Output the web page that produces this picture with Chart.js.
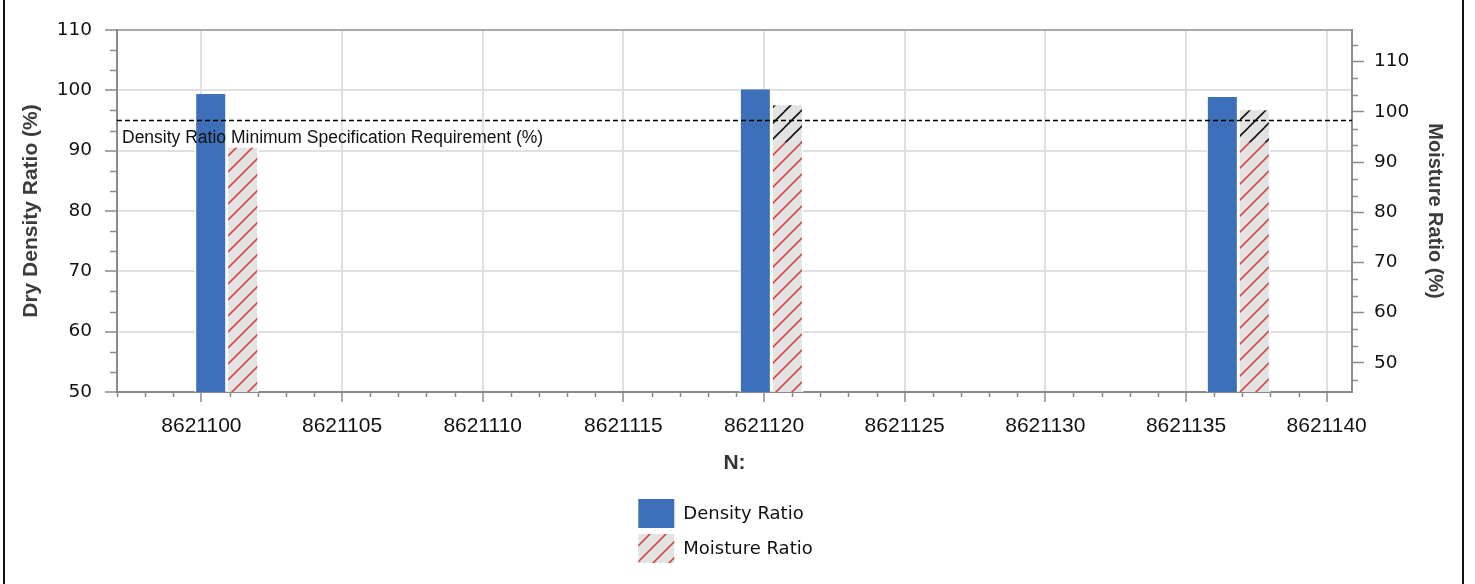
<!DOCTYPE html>
<html><head><meta charset="utf-8">
<script src="https://cdn.jsdelivr.net/npm/chart.js@4.4.1/dist/chart.umd.min.js"></script>
<style>
html,body{margin:0;padding:0;background:#fff;}
#wrap{position:relative;width:1475px;height:584px;overflow:hidden;}
#frame{position:absolute;left:3px;top:0;width:1457px;height:584px;border-left:2px solid #111;border-right:2px solid #111;pointer-events:none;}
canvas{position:absolute;left:0;top:0;}
</style></head><body>
<div id="wrap"><canvas id="c" width="1475" height="584"></canvas><div id="frame"></div></div>
<script>
// ---- data ----
const northings = [8621100.9, 8621120.26, 8621136.86];
const densityRatio = [99.4, 100.2, 98.9];
const moistureRatio = [92.9, 101.3, 100.3];
const densitySpecMin = 95;
const specLabel = 'Density Ratio Minimum Specification Requirement (%)';
const leftTicks = [50, 60, 70, 80, 90, 100, 110];
const rightTicks = [50, 60, 70, 80, 90, 100, 110];
const xTicks = [8621100, 8621105, 8621110, 8621115, 8621120, 8621125, 8621130, 8621135, 8621140];
const seriesLabels = ['Density Ratio', 'Moisture Ratio'];

const canvas = document.getElementById('c');
const ctx = canvas.getContext('2d');

function makeHatch(bg, fg) {
  const W = 16, H = 16;
  const c = document.createElement('canvas'); c.width = W; c.height = H;
  const g = c.getContext('2d');
  g.fillStyle = bg; g.fillRect(0, 0, W, H);
  g.strokeStyle = fg; g.lineWidth = 1.6;
  for (const dx of [-W, 0, W]) for (const dy of [-H, 0, H]) {
    g.beginPath(); g.moveTo(dx, H + dy); g.lineTo(dx + W, dy); g.stroke();
  }
  return ctx.createPattern(c, 'repeat');
}
const redHatch = makeHatch('#e3e3e3', '#d64541');
const blackHatch = makeHatch('#e3e3e3', '#111111');
const densityColor = '#3d70b8';
const axisColor = '#8a8a8a';
const gridColor = '#e0e0e0';

const specPlugin = {
  id: 'spec',
  afterDatasetsDraw(chart) {
    const c = chart.ctx, ca = chart.chartArea;
    const lineY = chart.scales.y.getPixelForValue(densitySpecMin);
    const bandBottom = lineY + 22;
    const meta = chart.getDatasetMeta(1);
    meta.data.forEach(bar => {
      const p = bar.getProps(['x', 'y', 'base', 'width'], true);
      const l = p.x - p.width / 2 + 1.5, r = p.x + p.width / 2 - 1.5;
      const top = p.y, bot = Math.min(p.base, bandBottom);
      if (bot <= top) return;
      c.save();
      c.beginPath(); c.rect(l, top, r - l, bot - top); c.clip();
      c.fillStyle = blackHatch; c.fillRect(l, top, r - l, bot - top);
      c.restore();
    });
    c.save();
    c.strokeStyle = '#000'; c.lineWidth = 1.5; c.setLineDash([5, 3]);
    const ly = Math.round(lineY) - 0.5;
    c.beginPath(); c.moveTo(ca.left, ly); c.lineTo(ca.right, ly); c.stroke();
    c.setLineDash([]);
    c.fillStyle = '#111';
    c.font = '17.5px "Liberation Sans", Arial, sans-serif';
    c.textBaseline = 'alphabetic'; c.textAlign = 'left';
    c.fillText(specLabel, ca.left + 5, lineY + 22);
    c.restore();
  }
};

const minorTickPlugin = {
  id: 'minorTicks',
  afterDraw(chart) {
    const c = chart.ctx;
    c.save(); c.strokeStyle = axisColor; c.lineWidth = 1.5;
    const y = chart.scales.y, y1 = chart.scales.y1, x = chart.scales.x;
    const ls = (leftTicks[1] - leftTicks[0]) / 3;
    for (let k = 0; ; k++) {
      const v = leftTicks[0] + k * ls;
      if (v > y.max + 1e-6) break;
      if (k % 3 === 0) continue;
      const py = Math.round(y.getPixelForValue(v)) + 0.5;
      c.beginPath(); c.moveTo(y.right - 7, py); c.lineTo(y.right, py); c.stroke();
    }
    const rs = (rightTicks[1] - rightTicks[0]) / 3;
    for (let k = -6; k < 40; k++) {
      const v = rightTicks[0] + k * rs;
      if (v < y1.min - 1e-6 || v > y1.max + 1e-6) continue;
      if (((k % 3) + 3) % 3 === 0) continue;
      const py = Math.round(y1.getPixelForValue(v)) + 0.5;
      c.beginPath(); c.moveTo(y1.left, py); c.lineTo(y1.left + 6, py); c.stroke();
    }
    for (let v = Math.ceil(x.min); v <= x.max; v++) {
      if (v % 5 === 0) continue;
      const px = Math.round(x.getPixelForValue(v)) + 0.5;
      c.beginPath(); c.moveTo(px, x.top); c.lineTo(px, x.top + 5); c.stroke();
    }
    c.restore();
  }
};

const legendPlugin = {
  id: 'customLegend',
  afterDraw(chart) {
    const c = chart.ctx, ca = chart.chartArea, xs = chart.scales.x;
    c.save();
    c.font = '18px "DejaVu Sans", sans-serif';
    const maxW = Math.max(...chart.data.datasets.map(d => c.measureText(d.label).width));
    const boxW = 36, boxH = 29, gap = 9, rowH = 35;
    const blockW = boxW + gap + maxW;
    const left = (ca.left + ca.right) / 2 - blockW / 2 - 9;
    let top = xs.bottom + 15;
    chart.data.datasets.forEach(d => {
      c.fillStyle = d.legendFill;
      c.fillRect(left, top, boxW, boxH);
      c.fillStyle = '#111'; c.textBaseline = 'middle'; c.textAlign = 'left';
      c.fillText(d.label, left + boxW + gap, top + boxH / 2 + 1);
      top += rowH;
    });
    c.restore();
  }
};

new Chart(canvas, {
  type: 'bar',
  data: {
    datasets: [
      {
        label: seriesLabels[0],
        data: northings.map((x, i) => ({ x, y: densityRatio[i] })),
        yAxisID: 'y',
        backgroundColor: densityColor,
        legendFill: densityColor,
        borderColor: '#ffffff',
        borderWidth: { left: 1.5, right: 1.5, top: 0, bottom: 0 },
        barThickness: 32,
        inflateAmount: 0
      },
      {
        label: seriesLabels[1],
        data: northings.map((x, i) => ({ x, y: moistureRatio[i] })),
        yAxisID: 'y1',
        backgroundColor: redHatch,
        legendFill: redHatch,
        borderColor: '#ffffff',
        borderWidth: { left: 1.5, right: 1.5, top: 0, bottom: 0 },
        barThickness: 32,
        inflateAmount: 0
      }
    ]
  },
  options: {
    responsive: false,
    animation: false,
    layout: { padding: { left: 0, right: 0, top: 30, bottom: 100 } },
    plugins: { legend: { display: false }, tooltip: { enabled: false } },
    scales: {
      x: {
        type: 'linear', position: 'bottom',
        min: 8621097, max: 8621140.9, offset: false,
        afterBuildTicks: s => { s.ticks = xTicks.map(v => ({ value: v })); },
        afterFit: s => { s.height = 92; },
        ticks: {
          font: { family: 'Liberation Sans', size: 21 }, color: '#111',
          padding: 12, maxRotation: 0, autoSkip: false,
          callback: v => String(v)
        },
        grid: { offset: false, color: gridColor, lineWidth: 2, tickColor: axisColor, tickLength: 10, tickWidth: 1.5 },
        border: { color: axisColor, width: 2 },
        title: { display: true, text: 'N:', font: { family: 'Liberation Sans', size: 21, weight: 'bold' }, color: '#333', padding: { top: 0, bottom: 8 } }
      },
      y: {
        type: 'linear', position: 'left', min: 50, max: 110,
        afterBuildTicks: s => { s.ticks = leftTicks.map(v => ({ value: v })); },
        afterFit: s => { s.width = 117; },
        ticks: { font: { family: 'DejaVu Sans', size: 18.5 }, color: '#111', padding: 13 },
        grid: {
          color: c => (c.tick && c.tick.value === 110) ? '#a8a8a8' : gridColor,
          lineWidth: 2, tickColor: axisColor, tickLength: 12, tickWidth: 1.5
        },
        border: { color: axisColor, width: 2 },
        title: { display: true, text: 'Dry Density Ratio (%)', font: { family: 'Liberation Sans', size: 21, weight: 'bold' }, color: '#3c3c3c', padding: { top: 18.5, bottom: 0 } }
      },
      y1: {
        type: 'linear', position: 'right', min: 44.2, max: 116.3,
        afterBuildTicks: s => { s.ticks = rightTicks.map(v => ({ value: v })); },
        afterFit: s => { s.width = 123; },
        ticks: { font: { family: 'DejaVu Sans', size: 18.5 }, color: '#111', padding: 10 },
        grid: { drawOnChartArea: false, tickColor: axisColor, tickLength: 12, tickWidth: 1.5 },
        border: { color: axisColor, width: 2 },
        title: { display: true, text: 'Moisture Ratio (%)', font: { family: 'Liberation Sans', size: 20, weight: 'bold' }, color: '#3c3c3c', padding: { top: 28, bottom: 0 } }
      }
    }
  },
  plugins: [specPlugin, minorTickPlugin, legendPlugin]
});
</script>
</body></html>
